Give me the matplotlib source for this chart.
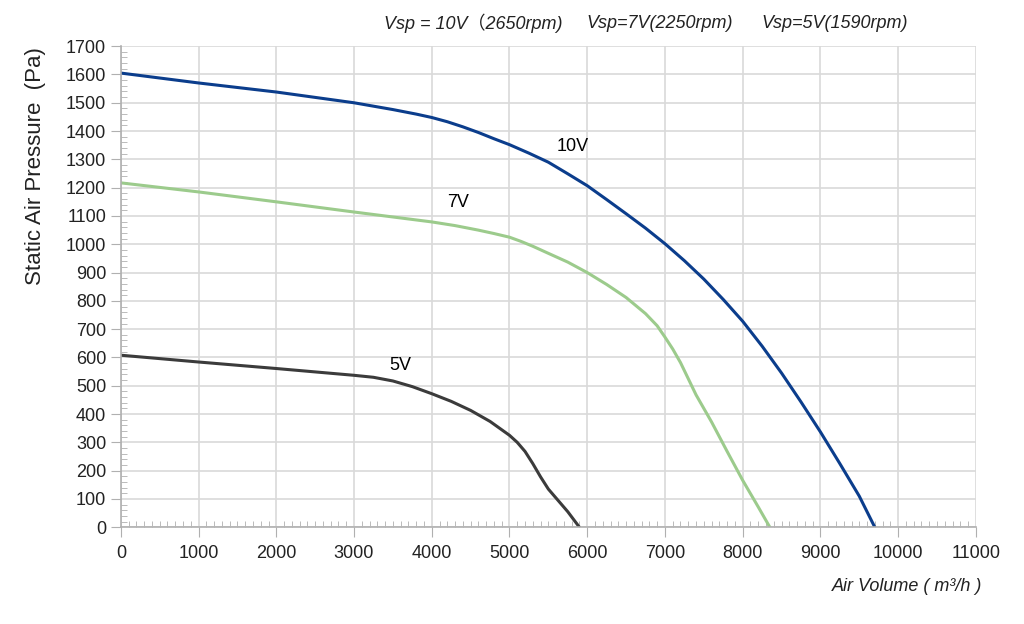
import numpy as np
import matplotlib.pyplot as plt
from matplotlib.ticker import MultipleLocator

# Curvas (vazão m3/h, pressão Pa)
vol_10v = [0, 1000, 2000, 3000, 3500, 3800, 4000, 4200, 4400, 4600, 4800, 5000,
           5250, 5500, 5750, 6000, 6250, 6500, 6750, 7000, 7250, 7500, 7750,
           8000, 8250, 8500, 8750, 9000, 9250, 9500, 9700]
pa_10v = [1605, 1570, 1538, 1500, 1476, 1460, 1448, 1433, 1415, 1395, 1373, 1352,
          1322, 1290, 1249, 1207, 1158, 1108, 1057, 1002, 942, 877, 805,
          728, 640, 545, 443, 337, 225, 110, 0]

vol_7v = [0, 1000, 2000, 3000, 4000, 4300, 4600, 4800, 5000, 5150, 5300, 5500,
          5750, 6000, 6250, 6500, 6750, 6900, 7000, 7100, 7200, 7300, 7400,
          7500, 7600, 7700, 7800, 8000, 8200, 8350]
pa_7v = [1217, 1185, 1150, 1114, 1079, 1066, 1050, 1038, 1025, 1010, 993, 968,
         937, 900, 858, 812, 755, 712, 672, 630, 582, 525, 468,
         420, 372, 320, 268, 166, 72, 0]

vol_5v = [0, 1000, 2000, 3000, 3250, 3500, 3750, 4000, 4250, 4500, 4750, 5000,
          5100, 5200, 5300, 5400, 5500, 5600, 5750, 5900]
pa_5v = [608, 584, 561, 537, 530, 517, 497, 472, 445, 413, 374, 325,
         300, 268, 225, 178, 135, 103, 55, 0]

titulos = ['Vsp = 10V（2650rpm)', 'Vsp=7V(2250rpm)', 'Vsp=5V(1590rpm)']
titulos_x = [0.375, 0.573, 0.744]

fig = plt.figure(figsize=(10.24, 6.24), dpi=100)
ax = fig.add_axes([0.118, 0.155, 0.835, 0.771])

ax.plot(vol_10v, pa_10v, color='#0b3d8c', lw=2.2)
ax.plot(vol_7v, pa_7v, color='#9ccb8c', lw=2.2)
ax.plot(vol_5v, pa_5v, color='#3b3b3b', lw=2.2)

ax.text(5600, 1330, '10V', fontsize=13, family='Liberation Sans')
ax.text(4200, 1130, '7V', fontsize=13, family='Liberation Sans')
ax.text(3450, 555, '5V', fontsize=13, family='Liberation Sans')

ax.set_xlim(0, 11000)
ax.set_ylim(0, 1700)
ax.xaxis.set_major_locator(MultipleLocator(1000))
ax.xaxis.set_minor_locator(MultipleLocator(100))
ax.yaxis.set_major_locator(MultipleLocator(100))
ax.yaxis.set_minor_locator(MultipleLocator(20))

ax.grid(True, which='major', color='#d9d9d9', lw=1.2)
ax.set_axisbelow(True)
for s in ['top', 'right']:
    ax.spines[s].set_visible(False)
for s in ['left', 'bottom']:
    ax.spines[s].set_color('#b0b0b0')
    ax.spines[s].set_linewidth(1.2)

ax.tick_params(which='major', direction='out', length=7, color='#b0b0b0',
               labelsize=13, labelcolor='#222222')
ax.tick_params(which='minor', direction='in', length=4, color='#b0b0b0')
ax.tick_params(axis='x', pad=6)
for lab in ax.get_xticklabels() + ax.get_yticklabels():
    lab.set_family('Liberation Sans')

ax.set_ylabel('Static Air Pressure  (Pa)', fontsize=16, family='Liberation Sans',
              color='#222222')
ax.yaxis.set_label_coords(-0.088, 0.75)

fig.text(0.959, 0.06, 'Air Volume ( m³/h )', ha='right', va='center', fontsize=13,
         style='italic', family=['Liberation Sans', 'DejaVu Sans'], color='#222222')

for t, x in zip(titulos, titulos_x):
    fig.text(x, 0.963, t, ha='left', va='center', fontsize=13, style='italic',
             family=['Liberation Sans', 'Noto Sans CJK SC'], color='#222222')

fig.savefig('out.png', dpi=100, facecolor='white')
